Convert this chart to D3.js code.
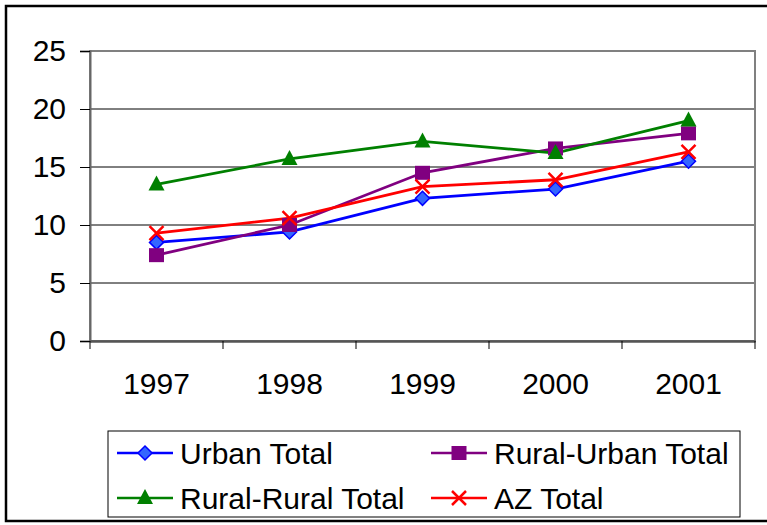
<!DOCTYPE html>
<html><head><meta charset="utf-8">
<script src="https://cdn.jsdelivr.net/npm/d3@7"></script>
<style>body{margin:0;background:#fff}svg{display:block}text{font-family:"Liberation Sans",Arial,sans-serif;fill:#000}</style>
</head><body>
<svg id="c" width="767" height="525"></svg>
<script>
const years = ["1997","1998","1999","2000","2001"];
const urbanTotal = [8.5, 9.4, 12.3, 13.1, 15.5];
const ruralUrbanTotal = [7.4, 10.0, 14.5, 16.6, 17.9];
const ruralRuralTotal = [13.5, 15.7, 17.2, 16.2, 19.0];
const azTotal = [9.3, 10.6, 13.3, 13.9, 16.3];
const yTicks = [0, 5, 10, 15, 20, 25];

const seriesList = [
  {name:"Urban Total", values:urbanTotal, color:"#0000FF", fill:"#3366FF", marker:"diamond"},
  {name:"Rural-Urban Total", values:ruralUrbanTotal, color:"#800080", fill:"#800080", marker:"square"},
  {name:"Rural-Rural Total", values:ruralRuralTotal, color:"#008000", fill:"#008000", marker:"triangle"},
  {name:"AZ Total", values:azTotal, color:"#FF0000", fill:"none", marker:"x"}
];

const FS = 30;
const svg = d3.select("#c");
const L = 90, R = 755, T = 51, B = 341;
const x = d3.scaleBand().domain(years).range([L, R]).padding(0);
const y = d3.scaleLinear().domain([0, 25]).range([B, T]);

// outer border
svg.append("rect").attr("x",6).attr("y",6).attr("width",770).attr("height",515)
  .attr("fill","none").attr("stroke","#000").attr("stroke-width",2.5);

// gridlines
svg.append("g").selectAll("line").data(yTicks.filter(d=>d>0 && d<25)).join("line")
  .attr("x1",L).attr("x2",R).attr("y1",d=>y(d)).attr("y2",d=>y(d))
  .attr("stroke","#000").attr("stroke-width",1);

// plot border
svg.append("rect").attr("x",L).attr("y",T).attr("width",R-L).attr("height",B-T)
  .attr("fill","none").attr("stroke","#808080").attr("stroke-width",2);

// y axis
const ya = svg.append("g").attr("transform",`translate(${L},0)`)
  .call(d3.axisLeft(y).tickValues(yTicks).tickSize(10).tickPadding(14).tickFormat(d3.format("d")));
ya.attr("font-family",null);
ya.select(".domain").attr("stroke","#666").attr("stroke-width",2);
ya.selectAll(".tick line").attr("stroke","#000");
ya.selectAll("text").attr("font-size",FS).attr("font-family","Liberation Sans, Arial, sans-serif");

// x axis
const xa = svg.append("g").attr("transform",`translate(0,${B})`)
  .call(d3.axisBottom(x).tickSize(0).tickPadding(32));
xa.attr("font-family",null);
xa.select(".domain").attr("stroke","#555").attr("stroke-width",2.5);
xa.selectAll("text").attr("font-size",FS).attr("font-family","Liberation Sans, Arial, sans-serif");
const bounds = years.map(d=>x(d)).concat([x(years[years.length-1])+x.bandwidth()]);
svg.append("g").selectAll("line").data(bounds).join("line")
  .attr("x1",d=>d).attr("x2",d=>d).attr("y1",B).attr("y2",B+8)
  .attr("stroke","#000").attr("stroke-width",1);

function drawMarker(g, type, color, fill, cx, cy){
  if(type==="diamond"){
    g.append("path").attr("d",`M${cx},${cy-7}L${cx+7},${cy}L${cx},${cy+7}L${cx-7},${cy}Z`)
      .attr("fill",fill).attr("stroke",color).attr("stroke-width",1.5);
  } else if(type==="square"){
    g.append("rect").attr("x",cx-7.5).attr("y",cy-7).attr("width",15).attr("height",14)
      .attr("fill",fill);
  } else if(type==="triangle"){
    g.append("path").attr("d",`M${cx},${cy-9}L${cx+8},${cy+6}L${cx-8},${cy+6}Z`).attr("fill",fill);
  } else if(type==="x"){
    g.append("path").attr("d",`M${cx-7},${cy-7}L${cx+7},${cy+7}M${cx+7},${cy-7}L${cx-7},${cy+7}`)
      .attr("stroke",color).attr("stroke-width",2.5).attr("fill","none");
  }
}

const cx = d => x(d) + x.bandwidth()/2;
const line = d3.line().x((v,i)=>cx(years[i])).y(v=>y(v));
seriesList.forEach(s=>{
  svg.append("path").datum(s.values).attr("d",line).attr("fill","none")
    .attr("stroke",s.color).attr("stroke-width",2.8);
});
seriesList.forEach(s=>{
  const g = svg.append("g");
  s.values.forEach((v,i)=>drawMarker(g, s.marker, s.color, s.fill, cx(years[i]), y(v)));
});

// legend
svg.append("rect").attr("x",108).attr("y",431).attr("width",632).attr("height",86)
  .attr("fill","#fff").attr("stroke","#000").attr("stroke-width",1);
const legPos = [[117,453],[431,453],[117,498],[431,498]];
seriesList.forEach((s,i)=>{
  const [lx,ly] = legPos[i];
  const g = svg.append("g");
  g.append("line").attr("x1",lx).attr("x2",lx+56).attr("y1",ly).attr("y2",ly)
    .attr("stroke",s.color).attr("stroke-width",2.5);
  drawMarker(g, s.marker, s.color, s.fill, lx+28, ly);
  g.append("text").attr("x",lx+63).attr("y",ly).attr("dy","0.35em")
    .attr("font-size",FS).text(s.name);
});
</script>
</body></html>
